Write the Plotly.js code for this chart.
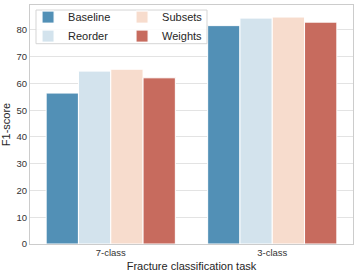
<!DOCTYPE html>
<html>
<head>
<meta charset="utf-8">
<script src="https://cdn.plot.ly/plotly-3.0.1.min.js"></script>
<style>html,body{margin:0;padding:0;background:#fff;}#chart{width:357px;height:273px;}</style>
</head>
<body>
<div id="chart"></div>
<script>
const categories = ["7-class", "3-class"];
const seriesNames = ["Baseline", "Reorder", "Subsets", "Weights"];
const baseline = [56.4, 81.6];
const reorder = [64.6, 84.4];
const subsets = [65.3, 84.8];
const weights = [62.1, 82.9];
const yTicks = [0, 10, 20, 30, 40, 50, 60, 70, 80];

const values = [baseline, reorder, subsets, weights];
const colors = ["#5290b6", "#d3e3ed", "#f7dccd", "#c76b5e"];
const legendIds = ["legend", "legend", "legend2", "legend2"];

const traces = seriesNames.map((name, i) => ({
  type: "bar",
  name: name,
  x: categories,
  y: values[i],
  legend: legendIds[i],
  marker: {color: colors[i], line: {color: "#ffffff", width: 1}}
}));

const legendCommon = {
  orientation: "v",
  yanchor: "top", xanchor: "left",
  y: 1.01,
  traceorder: "normal",
  bgcolor: "rgba(0,0,0,0)",
  borderwidth: 0,
  font: {size: 11, color: "#262626"}
};

const layout = {
  width: 357,
  height: 273,
  margin: {l: 30, r: 4, t: 3, b: 29},
  paper_bgcolor: "#ffffff",
  plot_bgcolor: "#ffffff",
  font: {family: "Liberation Sans, Arial, sans-serif", color: "#333333"},
  barmode: "group",
  bargap: 0.2,
  bargroupgap: 0,
  showlegend: true,
  legend: Object.assign({}, legendCommon, {x: -0.006}),
  legend2: Object.assign({}, legendCommon, {x: 0.285}),
  shapes: [{
    type: "rect", xref: "paper", yref: "paper",
    x0: 0.0186, x1: 0.548, y0: 0.838, y1: 0.979,
    layer: "above",
    fillcolor: "rgba(255,255,255,0.85)",
    line: {color: "#d5d5d5", width: 1}
  }],
  xaxis: {
    showline: true, linecolor: "#cccccc", linewidth: 1, mirror: true,
    showgrid: false, ticks: "",
    tickfont: {size: 9.5, color: "#333333"},
    title: {text: "Fracture classification task", font: {size: 11, color: "#262626"}, standoff: 4}
  },
  yaxis: {
    range: [0, 89.3],
    tickvals: yTicks,
    showline: true, linecolor: "#cccccc", linewidth: 1, mirror: true,
    showgrid: true, gridcolor: "#e3e3e3", gridwidth: 1,
    zeroline: false, ticks: "",
    tickfont: {size: 9.5, color: "#333333"},
    title: {text: "F1-score", font: {size: 11, color: "#262626"}, standoff: 6}
  }
};

Plotly.newPlot("chart", traces, layout, {displayModeBar: false, staticPlot: true});
</script>
</body>
</html>
